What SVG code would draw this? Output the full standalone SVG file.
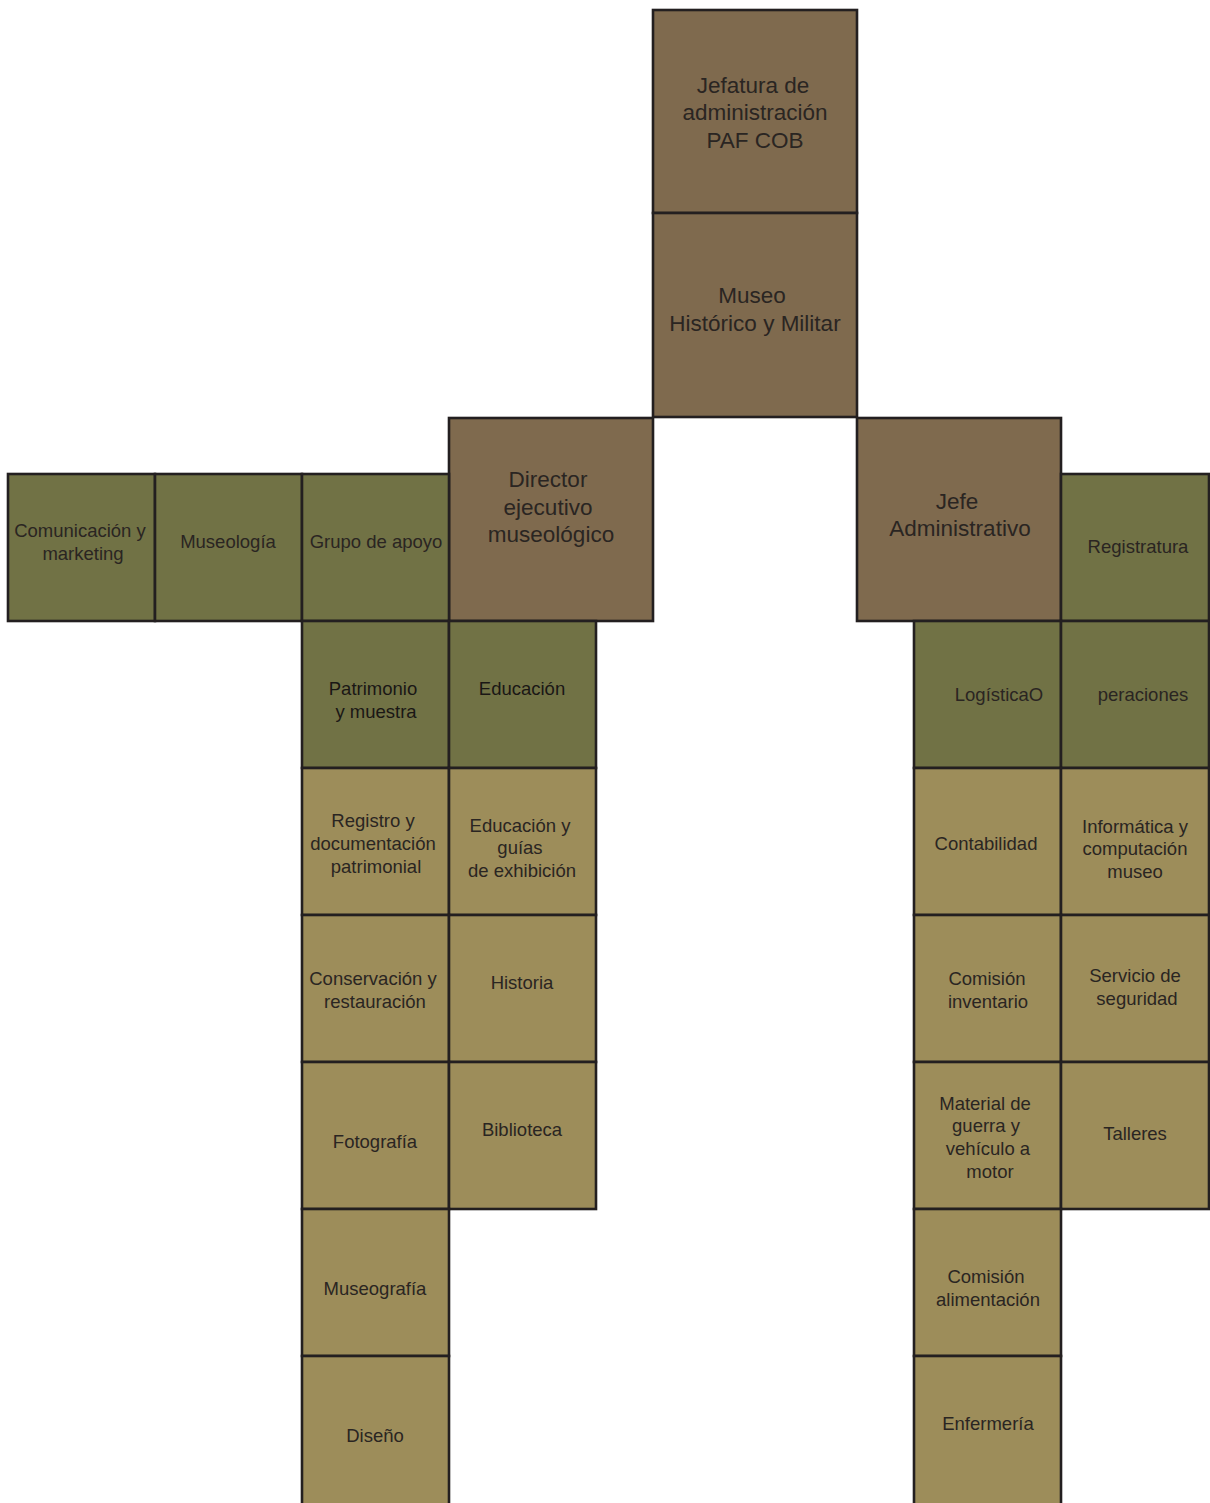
<svg xmlns="http://www.w3.org/2000/svg" width="1210" height="1503" viewBox="0 0 1210 1503">
<style>
rect{stroke:#231f20;stroke-width:2.6}
.b{fill:#7f6a4e}
.d{fill:#717245}
.l{fill:#9d8d5a}
text{font-family:"Liberation Sans",Arial,sans-serif;fill:#2a2522;text-anchor:middle;font-size:18.5px}
.t{font-size:22.5px}
</style>
<rect width="1210" height="1503" fill="#ffffff" style="stroke:none"/>
<g id="jefatura"><rect class="b" x="653" y="10" width="204" height="203"/>
<text class="t"><tspan x="753" y="93">Jefatura de</tspan><tspan x="755" y="120">administración</tspan><tspan x="755" y="148">PAF COB</tspan></text></g>
<g id="museo"><rect class="b" x="653" y="213" width="204" height="204"/>
<text class="t"><tspan x="752" y="303">Museo</tspan><tspan x="755" y="331">Histórico y Militar</tspan></text></g>
<g id="director"><rect class="b" x="449" y="418" width="204" height="203"/>
<text class="t"><tspan x="548" y="487">Director</tspan><tspan x="548" y="515">ejecutivo</tspan><tspan x="551" y="542">museológico</tspan></text></g>
<g id="jefe"><rect class="b" x="857" y="418" width="204" height="203"/>
<text class="t"><tspan x="957" y="509">Jefe</tspan><tspan x="960" y="536">Administrativo</tspan></text></g>
<g id="comunicacion"><rect class="d" x="8" y="474" width="147" height="147"/>
<text><tspan x="80" y="537">Comunicación y</tspan><tspan x="83" y="560">marketing</tspan></text></g>
<g id="museologia"><rect class="d" x="155" y="474" width="147" height="147"/>
<text x="228" y="548">Museología</text></g>
<g id="grupo"><rect class="d" x="302" y="474" width="147" height="147"/>
<text x="376" y="548">Grupo de apoyo</text></g>
<g id="registratura"><rect class="d" x="1061" y="474" width="148" height="147"/>
<text x="1138" y="553">Registratura</text></g>
<g id="patrimonio"><rect class="d" x="302" y="621" width="147" height="147"/>
<text style="fill:#1a1715"><tspan x="373" y="695">Patrimonio</tspan><tspan x="376" y="718">y muestra</tspan></text></g>
<g id="educacion"><rect class="d" x="449" y="621" width="147" height="147"/>
<text x="522" y="695" style="fill:#1a1715">Educación</text></g>
<g id="logistica"><rect class="d" x="914" y="621" width="147" height="147"/>
<text x="999" y="701">LogísticaO</text></g>
<g id="operaciones"><rect class="d" x="1061" y="621" width="148" height="147"/>
<text x="1143" y="701">peraciones</text></g>
<g id="registro"><rect class="l" x="302" y="768" width="147" height="147"/>
<text><tspan x="373" y="827">Registro y</tspan><tspan x="373" y="850">documentación</tspan><tspan x="376" y="873">patrimonial</tspan></text></g>
<g id="educguias"><rect class="l" x="449" y="768" width="147" height="147"/>
<text><tspan x="520" y="832">Educación y</tspan><tspan x="520" y="854">guías</tspan><tspan x="522" y="877">de exhibición</tspan></text></g>
<g id="contabilidad"><rect class="l" x="914" y="768" width="147" height="147"/>
<text x="986" y="850">Contabilidad</text></g>
<g id="informatica"><rect class="l" x="1061" y="768" width="148" height="147"/>
<text><tspan x="1135" y="833">Informática y</tspan><tspan x="1135" y="855">computación</tspan><tspan x="1135" y="878">museo</tspan></text></g>
<g id="conservacion"><rect class="l" x="302" y="915" width="147" height="147"/>
<text><tspan x="373" y="985">Conservación y</tspan><tspan x="375" y="1008">restauración</tspan></text></g>
<g id="historia"><rect class="l" x="449" y="915" width="147" height="147"/>
<text x="522" y="989">Historia</text></g>
<g id="inventario"><rect class="l" x="914" y="915" width="147" height="147"/>
<text><tspan x="987" y="985">Comisión</tspan><tspan x="988" y="1008">inventario</tspan></text></g>
<g id="seguridad"><rect class="l" x="1061" y="915" width="148" height="147"/>
<text><tspan x="1135" y="982">Servicio de</tspan><tspan x="1137" y="1005">seguridad</tspan></text></g>
<g id="fotografia"><rect class="l" x="302" y="1062" width="147" height="147"/>
<text x="375" y="1148">Fotografía</text></g>
<g id="biblioteca"><rect class="l" x="449" y="1062" width="147" height="147"/>
<text x="522" y="1136">Biblioteca</text></g>
<g id="material"><rect class="l" x="914" y="1062" width="147" height="147"/>
<text><tspan x="985" y="1110">Material de</tspan><tspan x="986" y="1132">guerra y</tspan><tspan x="988" y="1155">vehículo a</tspan><tspan x="990" y="1178">motor</tspan></text></g>
<g id="talleres"><rect class="l" x="1061" y="1062" width="148" height="147"/>
<text x="1135" y="1140">Talleres</text></g>
<g id="museografia"><rect class="l" x="302" y="1209" width="147" height="147"/>
<text x="375" y="1295">Museografía</text></g>
<g id="alimentacion"><rect class="l" x="914" y="1209" width="147" height="147"/>
<text><tspan x="986" y="1283">Comisión</tspan><tspan x="988" y="1306">alimentación</tspan></text></g>
<g id="diseno"><rect class="l" x="302" y="1356" width="147" height="150"/>
<text x="375" y="1442">Diseño</text></g>
<g id="enfermeria"><rect class="l" x="914" y="1356" width="147" height="150"/>
<text x="988" y="1430">Enfermería</text></g>
<g id="connectors"></g>
</svg>
